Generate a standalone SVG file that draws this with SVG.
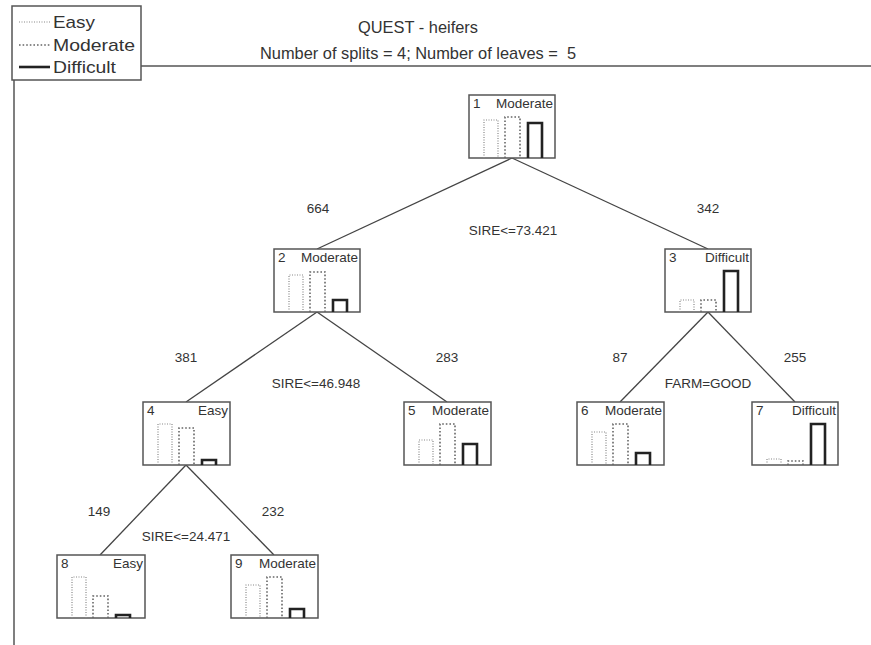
<svg xmlns="http://www.w3.org/2000/svg" width="871" height="645" viewBox="0 0 871 645">
<style>
text{font-family:"Liberation Sans",Arial,sans-serif;fill:#333}
.frame{fill:none;stroke:#555;stroke-width:1.5}
.box{fill:#fff;stroke:#555;stroke-width:1.5}
.ttl{font-size:16.4px;text-anchor:middle}
.leg{font-size:17px}
.nid{font-size:13.5px}
.ncl{font-size:13.5px;text-anchor:end}
.lbl{font-size:13.5px;text-anchor:middle}
.e{fill:none;stroke:#888;stroke-width:1.2;stroke-dasharray:1 1.5}
.m{fill:none;stroke:#666;stroke-width:1.6;stroke-dasharray:1.6 2}
.d{fill:none;stroke:#222;stroke-width:2.6}
.con{stroke:#444;stroke-width:1.3;fill:none}
</style>
<g id="frame">
<rect class="frame" x="12" y="6" width="129" height="74"/>
<line class="frame" x1="141" y1="66" x2="871" y2="66"/>
<line class="frame" x1="14" y1="80" x2="14" y2="645"/>
</g>
<g id="legend">
<line class="e" x1="19" y1="22" x2="50" y2="22"/>
<text class="leg" x="53" y="28" textLength="42" lengthAdjust="spacingAndGlyphs">Easy</text>
<line class="m" x1="19" y1="45" x2="50" y2="45"/>
<text class="leg" x="53" y="51" textLength="82" lengthAdjust="spacingAndGlyphs">Moderate</text>
<line class="d" x1="19" y1="67" x2="50" y2="67"/>
<text class="leg" x="53" y="73" textLength="63" lengthAdjust="spacingAndGlyphs">Difficult</text>
</g>
<g id="title">
<text class="ttl" x="418" y="33">QUEST - heifers</text>
<text class="ttl" x="418" y="59" xml:space="preserve">Number of splits = 4; Number of leaves =  5</text>
</g>
<g id="connectors">
<line class="con" x1="512" y1="158" x2="317" y2="249"/>
<line class="con" x1="512" y1="158" x2="708" y2="249"/>
<line class="con" x1="317" y1="312" x2="186" y2="402"/>
<line class="con" x1="317" y1="312" x2="447" y2="402"/>
<line class="con" x1="708" y1="312" x2="620" y2="402"/>
<line class="con" x1="708" y1="312" x2="795" y2="402"/>
<line class="con" x1="186" y1="465" x2="100" y2="555"/>
<line class="con" x1="186" y1="465" x2="274" y2="555"/>
<text class="lbl" x="318" y="213">664</text>
<text class="lbl" x="708" y="213">342</text>
<text class="lbl" x="513" y="235">SIRE&lt;=73.421</text>
<text class="lbl" x="186" y="362">381</text>
<text class="lbl" x="447" y="362">283</text>
<text class="lbl" x="316" y="388">SIRE&lt;=46.948</text>
<text class="lbl" x="620" y="362">87</text>
<text class="lbl" x="795" y="362">255</text>
<text class="lbl" x="708" y="388">FARM=GOOD</text>
<text class="lbl" x="99" y="516">149</text>
<text class="lbl" x="273" y="516">232</text>
<text class="lbl" x="186" y="541">SIRE&lt;=24.471</text>
</g>
<g id="node1">
<rect class="box" x="469" y="95" width="86" height="63"/>
<text class="nid" x="473" y="108">1</text>
<text class="ncl" x="553" y="108">Moderate</text>
<path class="e" d="M484 158V120H498V158"/>
<path class="m" d="M505 158V117H520V158"/>
<path class="d" d="M528 158V123H542V158"/>
</g>
<g id="node2">
<rect class="box" x="274" y="249" width="86" height="63"/>
<text class="nid" x="278" y="262">2</text>
<text class="ncl" x="358" y="262">Moderate</text>
<path class="e" d="M289 312V275H303V312"/>
<path class="m" d="M310 312V272H325V312"/>
<path class="d" d="M333 312V300H347V312"/>
</g>
<g id="node3">
<rect class="box" x="665" y="249" width="86" height="63"/>
<text class="nid" x="669" y="262">3</text>
<text class="ncl" x="749" y="262">Difficult</text>
<path class="e" d="M680 312V300H694V312"/>
<path class="m" d="M701 312V300H716V312"/>
<path class="d" d="M724 312V271H738V312"/>
</g>
<g id="node4">
<rect class="box" x="143" y="402" width="87" height="63"/>
<text class="nid" x="147" y="415">4</text>
<text class="ncl" x="228" y="415">Easy</text>
<path class="e" d="M158 465V424H172V465"/>
<path class="m" d="M179 465V428H194V465"/>
<path class="d" d="M202 465V460H216V465"/>
</g>
<g id="node5">
<rect class="box" x="404" y="402" width="87" height="63"/>
<text class="nid" x="408" y="415">5</text>
<text class="ncl" x="489" y="415">Moderate</text>
<path class="e" d="M419 465V440H433V465"/>
<path class="m" d="M440 465V424H455V465"/>
<path class="d" d="M463 465V444H477V465"/>
</g>
<g id="node6">
<rect class="box" x="577" y="402" width="87" height="63"/>
<text class="nid" x="581" y="415">6</text>
<text class="ncl" x="662" y="415">Moderate</text>
<path class="e" d="M592 465V432H606V465"/>
<path class="m" d="M613 465V424H628V465"/>
<path class="d" d="M636 465V453H650V465"/>
</g>
<g id="node7">
<rect class="box" x="752" y="402" width="86" height="63"/>
<text class="nid" x="756" y="415">7</text>
<text class="ncl" x="836" y="415">Difficult</text>
<path class="e" d="M767 465V459H781V465"/>
<path class="m" d="M788 465V461H803V465"/>
<path class="d" d="M811 465V424H825V465"/>
</g>
<g id="node8">
<rect class="box" x="57" y="555" width="88" height="63"/>
<text class="nid" x="61" y="568">8</text>
<text class="ncl" x="143" y="568">Easy</text>
<path class="e" d="M72 618V577H86V618"/>
<path class="m" d="M93 618V596H108V618"/>
<path class="d" d="M116 618V615H130V618"/>
</g>
<g id="node9">
<rect class="box" x="231" y="555" width="87" height="63"/>
<text class="nid" x="235" y="568">9</text>
<text class="ncl" x="316" y="568">Moderate</text>
<path class="e" d="M246 618V585H260V618"/>
<path class="m" d="M267 618V577H282V618"/>
<path class="d" d="M290 618V609H304V618"/>
</g>
</svg>
